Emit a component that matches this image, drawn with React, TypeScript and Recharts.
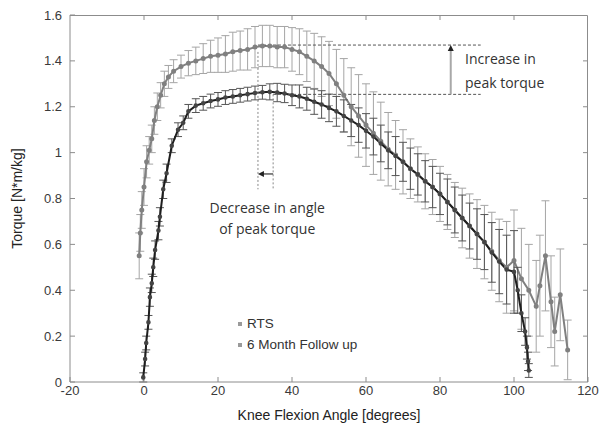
import React from "react";
import {
  ComposedChart,
  Line,
  XAxis,
  YAxis,
  ErrorBar,
  ReferenceLine,
  ReferenceDot,
} from "recharts";

/* ── data ── */

const xTicks = [-20, 0, 20, 40, 60, 80, 100, 120];
const yTicks = [0, 0.2, 0.4, 0.6, 0.8, 1, 1.2, 1.4, 1.6];

// RTS (darker, lower peak)
const rtsAngle = [
  -0.2, 0.3, 0.6, 1.2, 1.6, 2.1, 2.5, 3.0, 3.9, 4.3,
  5.2, 6.1, 7.5, 9.2, 10.6, 12, 14, 16, 18, 20,
  22, 24, 26, 28, 30, 32, 34, 36, 38, 40,
  42, 44, 46, 48, 50, 52, 54, 56, 58, 60,
  62, 64, 66, 68, 70, 72, 74, 76, 78, 80,
  82, 84, 86, 88, 90, 92, 94, 96, 98, 100,
  101, 102, 103, 103.5, 103.8, 104,
];
const rtsTorque = [
  0.02, 0.1, 0.17, 0.26, 0.37, 0.43, 0.5, 0.575, 0.66, 0.72,
  0.84, 0.91, 1.03, 1.1, 1.13, 1.18, 1.205, 1.215, 1.225, 1.232,
  1.24, 1.245, 1.25, 1.255, 1.26, 1.263, 1.265, 1.262, 1.258, 1.25,
  1.245, 1.235, 1.222, 1.21, 1.195, 1.18, 1.16, 1.14, 1.12, 1.095,
  1.07, 1.04, 1.01, 0.985, 0.96, 0.93, 0.905, 0.875, 0.85, 0.82,
  0.785, 0.75, 0.715, 0.68, 0.645, 0.61, 0.565, 0.525, 0.49, 0.48,
  0.4, 0.3, 0.22, 0.15, 0.09, 0.05,
];
const rtsSd = [
  0.02, 0.03, 0.03, 0.03, 0.04, 0.04, 0.04, 0.04, 0.04, 0.04,
  0.04, 0.04, 0.03, 0.03, 0.03, 0.03, 0.03, 0.03, 0.03, 0.03,
  0.03, 0.03, 0.03, 0.03, 0.03, 0.03, 0.035, 0.04, 0.04, 0.045,
  0.05, 0.05, 0.055, 0.06, 0.06, 0.065, 0.07, 0.07, 0.075, 0.075,
  0.08, 0.08, 0.08, 0.085, 0.085, 0.09, 0.09, 0.09, 0.09, 0.09,
  0.1, 0.1, 0.1, 0.1, 0.11, 0.12, 0.13, 0.14, 0.15, 0.18,
  0.1, 0.08, 0.06, 0.05, 0.04, 0.03,
];

// 6 Month Follow up (grey, higher peak)
const followAngle = [
  -1.3, -1.0, -0.6, 0, 0.7, 1.4, 2.1, 2.8, 3.6, 4.5,
  5.5, 6.6, 8, 10, 12, 14, 16, 18, 20, 22,
  24, 26, 28, 30, 32, 34, 36, 38, 40, 42,
  44, 46, 48, 50, 52, 54, 56, 58, 60, 62,
  64, 66, 68, 70, 72, 74, 76, 78, 80, 82,
  84, 86, 88, 90, 92, 94, 96, 98, 100, 102,
  104, 106, 107, 108.5, 110, 111, 112.5, 114.5,
];
const followTorque = [
  0.55, 0.65, 0.75, 0.85, 0.96, 1.01, 1.06, 1.14, 1.2, 1.25,
  1.3, 1.33, 1.355, 1.375, 1.39, 1.4, 1.41, 1.42, 1.425, 1.43,
  1.44, 1.445, 1.45, 1.46, 1.465, 1.465, 1.46, 1.46, 1.45, 1.44,
  1.42, 1.4, 1.375, 1.345, 1.3, 1.25, 1.2, 1.16, 1.12, 1.085,
  1.05, 1.015, 0.99, 0.96, 0.93, 0.905, 0.875, 0.85, 0.82, 0.785,
  0.75, 0.715, 0.68, 0.645, 0.61, 0.57, 0.53, 0.5, 0.53, 0.45,
  0.4, 0.33, 0.42, 0.55, 0.35, 0.22, 0.38, 0.14,
];
const followSd = [
  0.1, 0.08, 0.08, 0.08, 0.07, 0.06, 0.06, 0.06, 0.06, 0.055,
  0.055, 0.05, 0.05, 0.05, 0.055, 0.06, 0.065, 0.07, 0.075, 0.08,
  0.085, 0.085, 0.09, 0.09, 0.09, 0.09, 0.09, 0.09, 0.095, 0.1,
  0.11, 0.12, 0.13, 0.14, 0.15, 0.16, 0.17, 0.18, 0.18, 0.18,
  0.17, 0.16, 0.15, 0.14, 0.13, 0.12, 0.12, 0.12, 0.12, 0.12,
  0.12, 0.13, 0.14, 0.15, 0.16, 0.17, 0.18, 0.2, 0.22, 0.22,
  0.2, 0.2, 0.22, 0.24, 0.2, 0.15, 0.2, 0.13,
];

// annotation anchors
const peakFollow = { x: 30.8, y: 1.469 };
const peakRts = { x: 34.9, y: 1.254 };
const guideEndX = 91;
const arrowX = 82.9;
const dottedBottom = 0.84;
const angleArrowY = 0.907;

const legendItems = ["RTS", "6 Month Follow up"];

const X_MIN = -20;
const X_MAX = 120;
const Y_MAX = 1.6;

const rtsData = rtsAngle.map((a, i) => ({ angle: a, torque: rtsTorque[i], sd: rtsSd[i] }));
const followData = followAngle.map((a, i) => ({ angle: a, torque: followTorque[i], sd: followSd[i] }));

// chart box
const W = 602;
const H = 430;
const M = { top: 15, right: 14, left: 0, bottom: 0 };
const Y_AXIS_W = 70;
const X_AXIS_H = 48;
const plot = {
  left: M.left + Y_AXIS_W,
  top: M.top,
  width: W - M.left - M.right - Y_AXIS_W,
  height: H - M.top - M.bottom - X_AXIS_H,
};

const AXIS = "#8c8c8c";
const SANS = "Liberation Sans, Arial, sans-serif";
const TICK_FONT = { fontSize: 13, fill: "#3a3a3a", fontFamily: SANS };
const NOTE_FONT = "Open Sans, Noto Sans, sans-serif";

/* ── arrow shapes for the two annotations ── */

function ArrowUp(props: any) {
  const { x1, y1, x2, y2 } = props;
  const top = Math.min(y1, y2);
  const bot = Math.max(y1, y2);
  return (
    <g>
      <line x1={x1} y1={bot} x2={x2} y2={top + 4} stroke="#a8a8a8" strokeWidth={2} />
      <polygon points={`${x1 - 3},${top + 6} ${x1 + 3},${top + 6} ${x1},${top}`} fill="#222" />
    </g>
  );
}

function ArrowLeft(props: any) {
  const { x1, y1, x2 } = props;
  const left = Math.min(x1, x2);
  const right = Math.max(x1, x2);
  return (
    <g>
      <line x1={left + 4} y1={y1} x2={right} y2={y1} stroke="#333" strokeWidth={1.2} />
      <polygon points={`${left},${y1} ${left + 6},${y1 - 3} ${left + 6},${y1 + 3}`} fill="#222" />
    </g>
  );
}

/* ── top / right frame with inward ticks (overlay on the plot box) ── */

function Frame() {
  return (
    <svg
      width={W}
      height={H}
      style={{ position: "absolute", left: 0, top: 0, pointerEvents: "none" }}
    >
      <path
        d={`M${plot.left},${plot.top + 0.5} H${plot.left + plot.width - 0.5} V${plot.top + plot.height}`}
        stroke={AXIS}
        fill="none"
      />
      {xTicks.slice(1, -1).map((t) => {
        const px = plot.left + ((t - X_MIN) / (X_MAX - X_MIN)) * plot.width;
        return <line key={t} x1={px} x2={px} y1={plot.top} y2={plot.top + 5} stroke={AXIS} />;
      })}
      {yTicks.slice(1, -1).map((t) => {
        const py = plot.top + plot.height - (t / Y_MAX) * plot.height;
        const rx = plot.left + plot.width;
        return <line key={t} x1={rx} x2={rx - 5} y1={py} y2={py} stroke={AXIS} />;
      })}
    </svg>
  );
}

function LegendBox() {
  return (
    <div
      style={{
        position: "absolute",
        left: 238,
        top: 313,
        fontFamily: SANS,
        fontSize: 13.5,
        color: "#333",
      }}
    >
      {legendItems.map((label) => (
        <div key={label} style={{ display: "flex", alignItems: "center", height: 21 }}>
          <span style={{ width: 4, height: 4, background: "#9a9a9a", marginRight: 5 }} />
          {label}
        </div>
      ))}
    </div>
  );
}

export default function App() {
  return (
    <div style={{ position: "absolute", left: 0, top: 0, width: W, height: H, background: "#fff" }}>
      <ComposedChart width={W} height={H} margin={M}>
        <XAxis
          dataKey="angle"
          type="number"
          domain={[X_MIN, X_MAX]}
          ticks={xTicks}
          height={X_AXIS_H}
          stroke={AXIS}
          tickSize={-5}
          tickMargin={9}
          tick={TICK_FONT}
          allowDataOverflow
          label={{
            value: "Knee Flexion Angle [degrees]",
            position: "insideBottom",
            offset: 10,
            style: { fontSize: 14, fill: "#222", fontFamily: SANS },
          }}
        />
        <YAxis
          type="number"
          domain={[0, Y_MAX]}
          ticks={yTicks}
          width={Y_AXIS_W}
          stroke={AXIS}
          tickSize={-5}
          tickMargin={13}
          tick={TICK_FONT}
          allowDataOverflow
          label={{
            value: "Torque [N*m/kg]",
            angle: -90,
            position: "insideLeft",
            offset: 17,
            style: { fontSize: 14, fill: "#222", textAnchor: "middle", fontFamily: SANS },
          }}
        />

        <Line
          data={followData}
          dataKey="torque"
          name="6 Month Follow up"
          stroke="#808080"
          strokeWidth={2}
          dot={{ r: 1.5, fill: "#808080", stroke: "#808080" }}
          isAnimationActive={false}
        >
          <ErrorBar dataKey="sd" width={4} stroke="#a5a5a5" strokeWidth={1} direction="y" />
        </Line>
        <Line
          data={rtsData}
          dataKey="torque"
          name="RTS"
          stroke="#1e1e1e"
          strokeWidth={2}
          dot={{ r: 1.3, fill: "#444", stroke: "#444" }}
          isAnimationActive={false}
        >
          <ErrorBar dataKey="sd" width={4} stroke="#555" strokeWidth={1} direction="y" />
        </Line>

        {/* peak guides */}
        <ReferenceLine
          segment={[peakFollow, { x: guideEndX, y: peakFollow.y }]}
          stroke="#555"
          strokeDasharray="3 2"
        />
        <ReferenceLine
          segment={[peakRts, { x: guideEndX, y: peakRts.y }]}
          stroke="#555"
          strokeDasharray="3 2"
        />
        <ReferenceLine
          segment={[{ x: peakFollow.x, y: peakFollow.y - 0.03 }, { x: peakFollow.x, y: dottedBottom }]}
          stroke="#888"
          strokeDasharray="2 2"
        />
        <ReferenceLine
          segment={[peakRts, { x: peakRts.x, y: dottedBottom }]}
          stroke="#888"
          strokeDasharray="2 2"
        />
        <ReferenceLine
          segment={[{ x: arrowX, y: peakRts.y }, { x: arrowX, y: peakFollow.y }]}
          shape={ArrowUp}
        />
        <ReferenceLine
          segment={[{ x: peakFollow.x, y: angleArrowY }, { x: peakRts.x, y: angleArrowY }]}
          shape={ArrowLeft}
        />

        {/* annotation text */}
        <ReferenceDot
          x={arrowX + 2.5}
          y={1.41}
          r={0}
          stroke="none"
          label={{ value: "Increase in", position: "right", style: { fontSize: 14, fill: "#333", fontFamily: NOTE_FONT } }}
        />
        <ReferenceDot
          x={arrowX + 2.5}
          y={1.305}
          r={0}
          stroke="none"
          label={{ value: "peak torque", position: "right", style: { fontSize: 14, fill: "#333", fontFamily: NOTE_FONT } }}
        />
        <ReferenceDot
          x={33.3}
          y={0.76}
          r={0}
          stroke="none"
          label={{ value: "Decrease in angle", position: "center", style: { fontSize: 14, fill: "#333", fontFamily: NOTE_FONT } }}
        />
        <ReferenceDot
          x={33.3}
          y={0.665}
          r={0}
          stroke="none"
          label={{ value: "of peak torque", position: "center", style: { fontSize: 14, fill: "#333", fontFamily: NOTE_FONT } }}
        />
      </ComposedChart>
      <Frame />
      <LegendBox />
    </div>
  );
}
